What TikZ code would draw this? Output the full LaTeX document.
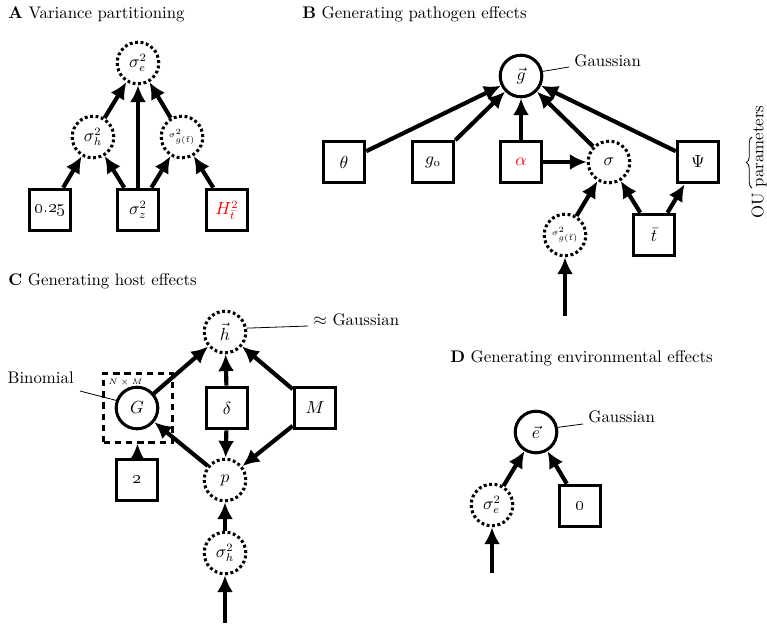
\documentclass[tikz,border=0pt]{standalone}
\usetikzlibrary{arrows.meta,decorations.pathreplacing}
\begin{document}
\begin{tikzpicture}[x=0.625pt,y=-0.625pt,
  font=\fontsize{10.5}{12}\selectfont,
  obs/.style={circle,draw,line width=1.9pt,minimum size=26pt,inner sep=0pt},
  lat/.style={circle,draw,line width=1.9pt,dash pattern=on 1.8pt off 1.6pt,minimum size=26pt,inner sep=0pt},
  cst/.style={rectangle,draw,line width=1.9pt,minimum size=26pt,inner sep=0pt},
  arr/.style={line width=2.6pt,-{Latex[length=10.5pt,width=10pt]}},
  lbl/.style={line width=0.5pt},
  ttl/.style={anchor=base west,inner sep=0pt}]
\useasboundingbox (0,0) rectangle (767,623);

% ---------- A ----------
\node[ttl] (tA) at (8,18) {\textbf{A} Variance partitioning};
\node[lat] (Ae) at (138,63) {$\sigma^2_e$};
\node[lat] (Ah) at (93,137) {$\sigma^2_h$};
\node[lat] (Ag) at (182,137) {\tiny$\sigma^2_{g(\bar t)}$};
\node[cst] (A025) at (50,210) {\oldstylenums{0.25}};
\node[cst] (Az) at (138,210) {$\sigma^2_z$};
\node[cst] (AH) at (227,210) {\color{red}$H^2_{\bar t}$};
\draw[arr] (A025) -- (Ah);
\draw[arr] (Az) -- (Ah);
\draw[arr] (Az) -- (Ae);
\draw[arr] (Az) -- (Ag);
\draw[arr] (AH) -- (Ag);
\draw[arr] (Ah) -- (Ae);
\draw[arr] (Ag) -- (Ae);

% ---------- B ----------
\node[ttl] (tB) at (302,18) {\textbf{B} Generating pathogen effects};
\node[obs] (Bg) at (521,76) {$\vec g$};
\node[cst] (Bth) at (344,162) {$\theta$};
\node[cst] (Bg0) at (433,162) {$g_{\oldstylenums{0}}$};
\node[cst] (Bal) at (521,162) {\color{red}$\alpha$};
\node[lat] (Bsi) at (609,162) {$\sigma$};
\node[cst] (Bps) at (698,162) {$\Psi$};
\node[lat] (Bsg) at (565,235) {\tiny$\sigma^2_{g(\bar t)}$};
\node[cst] (Bt) at (654,235) {$\bar t$};
\coordinate (Bin) at (565,316);
\draw[arr] (Bth) -- (Bg);
\draw[arr] (Bg0) -- (Bg);
\draw[arr] (Bal) -- (Bg);
\draw[arr] (Bsi) -- (Bg);
\draw[arr] (Bps) -- (Bg);
\draw[arr] (Bal) -- (Bsi);
\draw[arr] (Bsg) -- (Bsi);
\draw[arr] (Bt) -- (Bsi);
\draw[arr] (Bt) -- (Bps);
\draw[arr] (Bin) -- (Bsg);
\node[anchor=west,inner sep=0pt] (BgL) at (574,61) {Gaussian};
\coordinate (BgLc) at (569,67);
\draw[lbl] (Bg.12) -- (BgLc);
\node[rotate=90,inner sep=0pt] (OU) at (759,162) {OU parameters};
\draw[line width=0.5pt,decorate,decoration={brace,amplitude=3.5pt}] (752,188) -- (752,137);

% ---------- C ----------
\node[ttl] (tC) at (8,285) {\textbf{C} Generating host effects};
\node[lat] (Ch) at (225,332) {$\vec h$};
\node[obs] (CG) at (137,408) {$G$};
\node[cst] (Cd) at (227,408) {$\delta$};
\node[cst] (CM) at (315,408) {$M$};
\node[cst] (C2) at (137,480) {\oldstylenums{2}};
\node[lat] (Cp) at (225,480) {$p$};
\node[lat] (Cs) at (225,553) {$\sigma^2_h$};
\coordinate (Cin) at (225,623);
\node[draw,line width=1.5pt,dash pattern=on 4pt off 3pt,minimum width=43pt,minimum height=43pt,inner sep=0pt] (Cplate) at (138,408) {};
\node[anchor=west,inner sep=0pt,font=\fontsize{5}{6}\selectfont] (CNM) at (108,382) {$N\times M$};
\draw[arr] (CG) -- (Ch);
\draw[arr] (Cd) -- (Ch);
\draw[arr] (CM) -- (Ch);
\draw[arr] (Cd) -- (Cp);
\draw[arr] (CM) -- (Cp);
\draw[arr] (Cp) -- (CG);
\draw[arr] (C2) -- (Cplate);
\draw[arr] (Cs) -- (Cp);
\draw[arr] (Cin) -- (Cs);
\node[anchor=west,inner sep=0pt] (ChL) at (313,320) {$\approx$ Gaussian};
\coordinate (ChLc) at (308,326);
\draw[lbl] (Ch.10) -- (ChLc);
\node[anchor=east,inner sep=0pt] (CGL) at (74,378) {Binomial};
\coordinate (CGLc) at (80,391);
\draw[lbl] (CGLc) -- (CG.160);

% ---------- D ----------
\node[ttl] (tD) at (450,362) {\textbf{D} Generating environmental effects};
\node[obs] (De) at (536,432) {$\vec e$};
\node[lat] (Ds) at (492,505) {$\sigma^2_e$};
\node[cst] (D0) at (580,506) {\oldstylenums{0}};
\coordinate (Din) at (492,573);
\draw[arr] (Ds) -- (De);
\draw[arr] (D0) -- (De);
\draw[arr] (Din) -- (Ds);
\node[anchor=west,inner sep=0pt] (DeL) at (588,417) {Gaussian};
\coordinate (DeLc) at (583,424);
\draw[lbl] (De.12) -- (DeLc);
\end{tikzpicture}
\end{document}
